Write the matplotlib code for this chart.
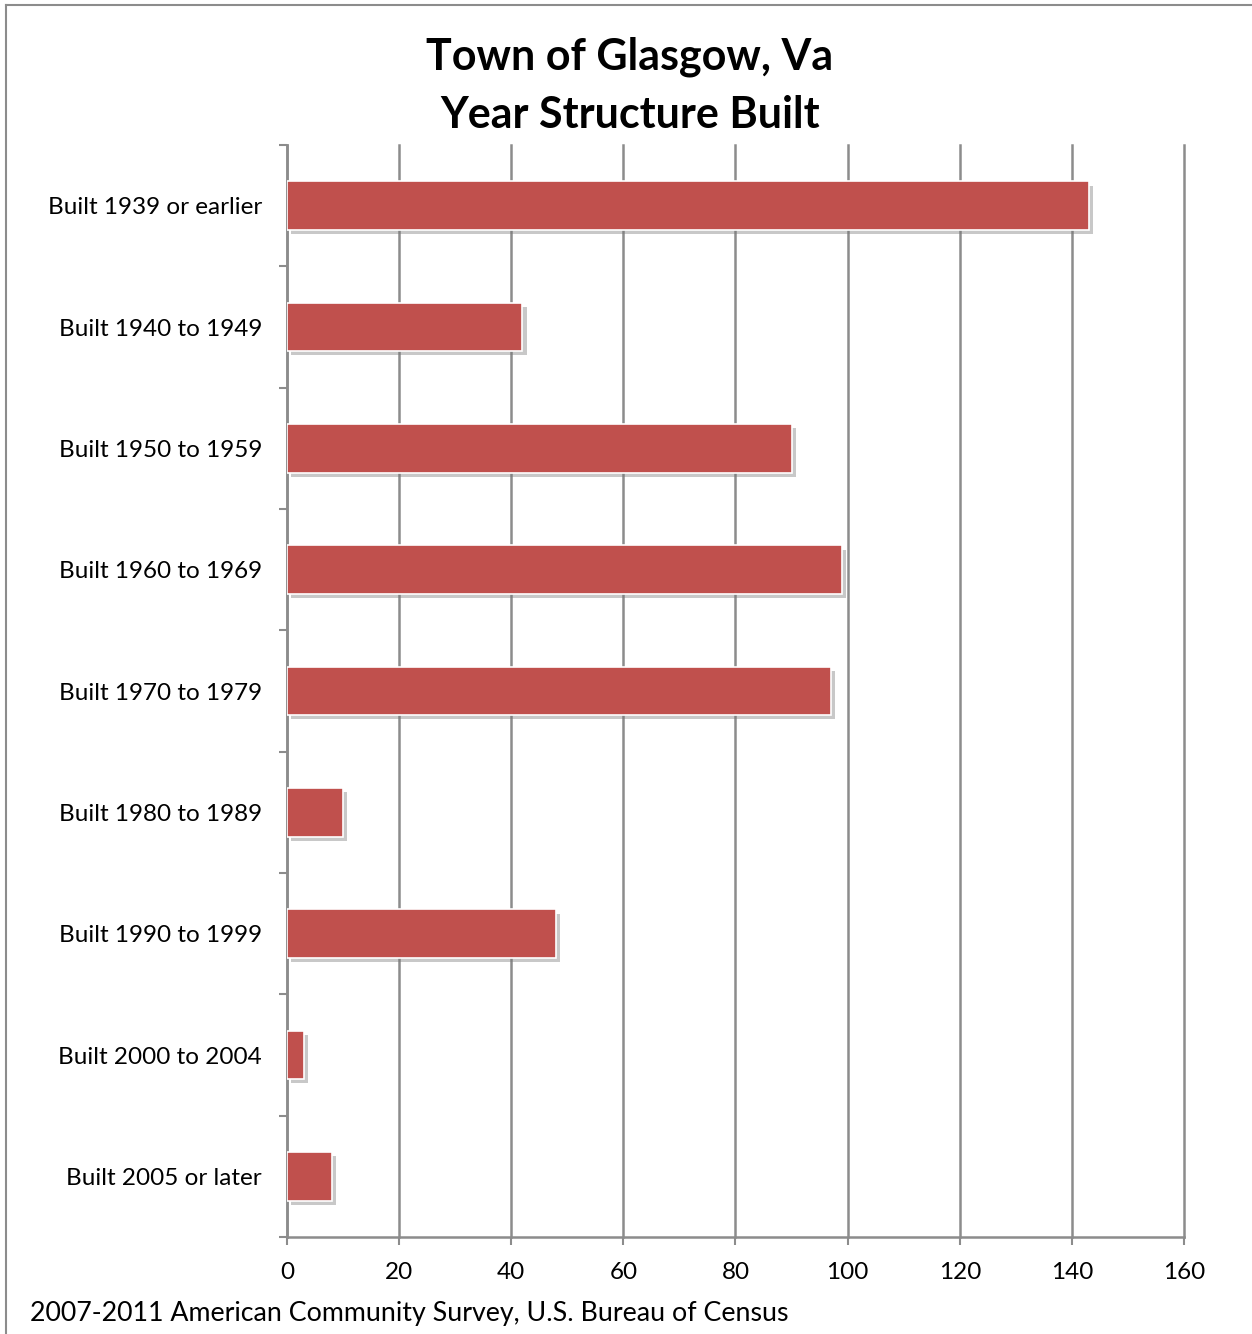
import matplotlib

matplotlib.use("Agg")

import matplotlib.pyplot as plt
import matplotlib.patheffects as pe
from matplotlib.lines import Line2D
import numpy as np

categories = [
    "Built 1939 or earlier",
    "Built 1940 to 1949",
    "Built 1950 to 1959",
    "Built 1960 to 1969",
    "Built 1970 to 1979",
    "Built 1980 to 1989",
    "Built 1990 to 1999",
    "Built 2000 to 2004",
    "Built 2005 or later",
]
units = [143, 42, 90, 99, 97, 10, 48, 3, 8]
x_ticks = [0, 20, 40, 60, 80, 100, 120, 140, 160]

title_lines = ["Town of Glasgow, Va", "Year Structure Built"]
source = "2007-2011 American Community Survey, U.S. Bureau of Census"

plt.rcParams["font.family"] = ["Lato", "DejaVu Sans"]

W, H = 1252, 1334
fig = plt.figure(figsize=(W / 100, H / 100), dpi=100)
ax = fig.add_axes([0.2292, 0.0727, 0.7165, 0.8186])

grid_color = "#8c8c8c"
bar_color = "#C0504D"

y = np.arange(len(categories))
bars = ax.barh(y, units, height=0.4, color=bar_color, edgecolor="white",
               linewidth=1.2, zorder=3)
for bar in bars:
    bar.set_path_effects([
        pe.SimplePatchShadow(offset=(3, -3), shadow_rgbFace="#777777", alpha=0.4),
        pe.Normal(),
    ])

ax.set_xlim(0, 160)
ax.set_ylim(len(categories) - 0.5, -0.5)
ax.set_xticks(x_ticks)
ax.set_xticklabels([str(t) for t in x_ticks], fontsize=17.5)
ax.set_yticks(y)
ax.set_yticklabels(categories, fontsize=17.5)
ax.set_yticks(np.arange(len(categories) + 1) - 0.5, minor=True)

ax.xaxis.grid(True, color=grid_color, linewidth=1.8, zorder=0)
ax.set_axisbelow(True)
for gl in ax.get_xgridlines():
    gl.set_clip_on(False)

ax.tick_params(axis="y", which="major", length=0, pad=18)
ax.tick_params(axis="y", which="minor", length=6, width=1.5, color=grid_color)
ax.tick_params(axis="x", which="major", length=6, width=1.5, color=grid_color, pad=12)

for side in ("top", "right"):
    ax.spines[side].set_visible(False)
for side in ("left", "bottom"):
    ax.spines[side].set_color(grid_color)
    ax.spines[side].set_linewidth(1.8)

for line, ypx in zip(title_lines, [57, 115]):
    fig.text(630 / W, 1 - ypx / H, line, ha="center", va="center",
             fontsize=31, fontweight="bold")
fig.text(30 / W, 1 - 1313 / H, source, ha="left", va="center", fontsize=19.3)

# thin frame around the chart area (left and top edges)
fig.add_artist(Line2D([0.005, 0.005], [0.0, 0.996], transform=fig.transFigure,
                      color="#8c8c8c", linewidth=1.5))
fig.add_artist(Line2D([0.005, 1.0], [0.996, 0.996], transform=fig.transFigure,
                      color="#8c8c8c", linewidth=1.5))

fig.savefig("out.png", dpi=100)
